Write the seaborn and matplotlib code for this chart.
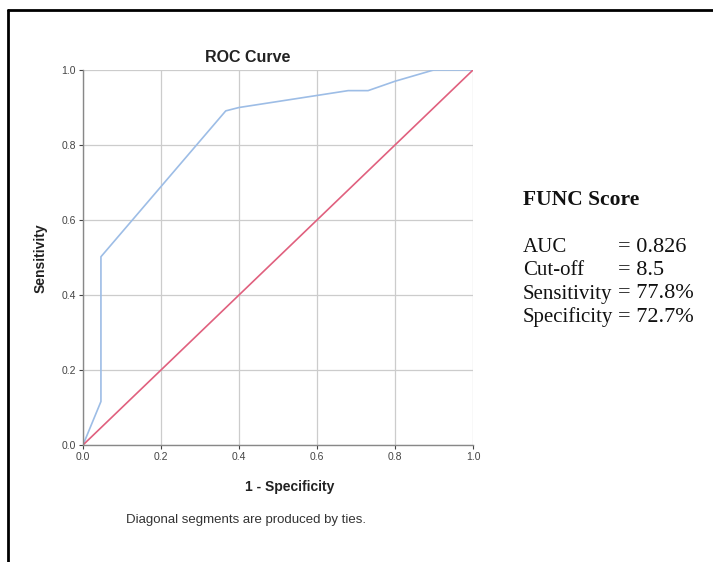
import matplotlib
matplotlib.use("Agg")
import matplotlib.pyplot as plt
import seaborn as sns
import pandas as pd
from matplotlib.lines import Line2D

# ROC curve data
fpr = [0.0, 0.046, 0.046, 0.366, 0.40, 0.68, 0.731, 0.80, 0.899, 1.0]
tpr = [0.0, 0.116, 0.502, 0.891, 0.90, 0.945, 0.945, 0.97, 1.0, 1.0]
ref_x = [0.0, 1.0]
ref_y = [0.0, 1.0]
ticks = [0.0, 0.2, 0.4, 0.6, 0.8, 1.0]
tick_labels = ["0.0", "0.2", "0.4", "0.6", "0.8", "1.0"]

stat_labels = ["AUC", "Cut-off", "Sensitivity", "Specificity"]
stat_values = ["= 0.826", "= 8.5", "= 77.8%", "= 72.7%"]

sns.set_style("white")
plt.rcParams["font.family"] = ["Liberation Sans", "DejaVu Sans"]

W, H = 713, 562
fig = plt.figure(figsize=(W / 100, H / 100), dpi=100)
ax = fig.add_axes([83 / W, 1 - 445 / H, 390 / W, 375 / H])

roc = pd.DataFrame({"fpr": fpr, "tpr": tpr})
ref = pd.DataFrame({"x": ref_x, "y": ref_y})
sns.lineplot(data=roc, x="fpr", y="tpr", ax=ax, color="#9dbde6", lw=1.2,
             sort=False, estimator=None)
sns.lineplot(data=ref, x="x", y="y", ax=ax, color="#e0607e", lw=1.2,
             sort=False, estimator=None)

ax.set_xlim(0, 1)
ax.set_ylim(0, 1)
ax.set_xticks(ticks)
ax.set_xticklabels(tick_labels)
ax.set_yticks(ticks)
ax.set_yticklabels(tick_labels)
ax.grid(True, color="#cccccc", lw=0.9)
ax.set_axisbelow(True)
for s in ["top", "right"]:
    ax.spines[s].set_visible(False)
for s in ["left", "bottom"]:
    ax.spines[s].set_color("#888888")
    ax.spines[s].set_linewidth(1.0)
ax.tick_params(axis="both", labelsize=7.5, colors="#444444", length=3,
               width=0.8, direction="out", pad=2, left=True, bottom=True)
ax.set_xlabel("")
ax.set_ylabel("")

fig.text(248 / W, 1 - 57 / H, "ROC Curve", ha="center", va="center",
         fontsize=11.5, fontweight="bold", color="#222222")
fig.text(290 / W, 1 - 487 / H, "1 - Specificity", ha="center", va="center",
         fontsize=10, fontweight="bold", color="#222222")
fig.text(41 / W, 1 - 258 / H, "Sensitivity", ha="center", va="center",
         rotation=90, fontsize=10, fontweight="bold", color="#222222")
fig.text(246 / W, 1 - 520 / H, "Diagonal segments are produced by ties.",
         ha="center", va="center", fontsize=9.5, color="#333333")

serif = ["Liberation Serif", "DejaVu Serif"]
fig.text(523 / W, 1 - 200 / H, "FUNC Score", ha="left", va="center",
         fontsize=15.5, fontweight="bold", family=serif, color="#111111")
ys = [248, 271, 294, 317]
for lab, val, yy in zip(stat_labels, stat_values, ys):
    fig.text(523 / W, 1 - yy / H, lab, ha="left", va="center",
             fontsize=15, family=serif, color="#111111")
    fig.text(618 / W, 1 - yy / H, val, ha="left", va="center",
             fontsize=16, family=serif, color="#111111")

# outer border (top and left)
fig.add_artist(Line2D([8 / W, 1.0], [1 - 10 / H, 1 - 10 / H],
                      transform=fig.transFigure, color="black", lw=2))
fig.add_artist(Line2D([8 / W, 8 / W], [0.0, 1 - 10 / H],
                      transform=fig.transFigure, color="black", lw=2))

fig.savefig("out.png", dpi=100)
